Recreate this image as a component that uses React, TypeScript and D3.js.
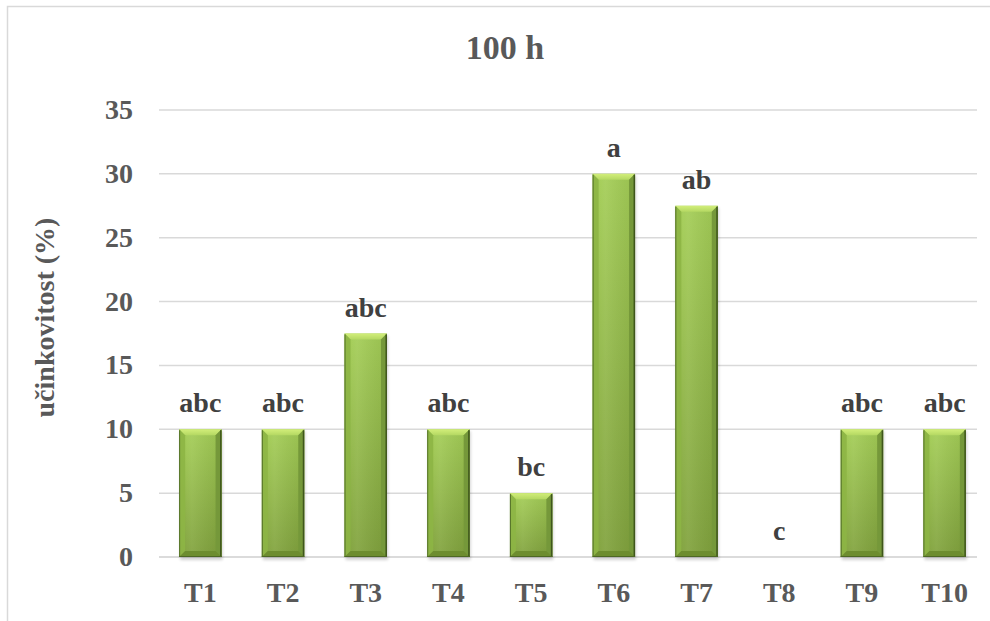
import React from "react";
import * as d3 from "d3";

const categories = ["T1", "T2", "T3", "T4", "T5", "T6", "T7", "T8", "T9", "T10"];
const values = [10, 10, 17.5, 10, 5, 30, 27.5, 0, 10, 10];
const letters = ["abc", "abc", "abc", "abc", "bc", "a", "ab", "c", "abc", "abc"];
const yTicks = [0, 5, 10, 15, 20, 25, 30, 35];
const title = "100 h";
const yTitle = "učinkovitost (%)";

const W = 990;
const H = 621;
const FONT = "'Liberation Serif', 'Times New Roman', serif";
const TXT = "#595959";

export default function App() {
  const x = d3
    .scaleBand<string>()
    .domain(categories)
    .range([159, 986])
    .paddingInner(0.487)
    .paddingOuter(0.2435);
  const y = d3.scaleLinear().domain([0, 35]).range([557, 110]);
  const bw = x.bandwidth();
  const b = 6;

  return (
    <svg
      width={W}
      height={H}
      style={{ position: "absolute", left: 0, top: 0, background: "#fff" }}
      fontFamily={FONT}
    >
      <defs>
        <linearGradient id="body" x1="0" y1="0" x2="0" y2="1">
          <stop offset="0" stopColor="#a3cd55" />
          <stop offset="1" stopColor="#7fa13b" />
        </linearGradient>
        <linearGradient id="bodyH" x1="0" y1="0" x2="1" y2="0">
          <stop offset="0" stopColor="#ffffff" stopOpacity="0.0" />
          <stop offset="0.3" stopColor="#ffffff" stopOpacity="0.08" />
          <stop offset="1" stopColor="#000000" stopOpacity="0.06" />
        </linearGradient>
        <linearGradient id="topBev" x1="0" y1="0" x2="0" y2="1">
          <stop offset="0" stopColor="#d2ee7a" />
          <stop offset="1" stopColor="#b4d862" />
        </linearGradient>
        <filter id="shadow" x="-20%" y="-5%" width="140%" height="115%">
          <feGaussianBlur stdDeviation="1.5" />
        </filter>
      </defs>

      <rect x={7.5} y={6.5} width={1100} height={800} fill="#fff" stroke="#d9d9d9" strokeWidth={1.5} />

      {yTicks.map((t) => (
        <line
          key={"g" + t}
          x1={159}
          x2={977}
          y1={y(t)}
          y2={y(t)}
          stroke={t === 0 ? "#cfcfcf" : "#d9d9d9"}
          strokeWidth={1.5}
        />
      ))}

      {yTicks.map((t) => (
        <text
          key={"t" + t}
          x={133}
          y={y(t) + 9}
          textAnchor="end"
          fontSize={28}
          fontWeight="bold"
          fill={TXT}
        >
          {t}
        </text>
      ))}

      {categories.map((c, i) => {
        const v = values[i];
        if (v <= 0) return null;
        const x0 = x(c)!;
        const y0 = y(v);
        const h = y(0) - y0;
        const x1 = x0 + bw;
        const y1 = y0 + h;
        return (
          <g key={"b" + c}>
            <rect x={x0 + 1} y={y0 + 2} width={bw} height={h + 1} fill="#000" opacity={0.18} filter="url(#shadow)" />
            <rect x={x0} y={y0} width={bw} height={h} fill="url(#body)" />
            <rect x={x0} y={y0} width={bw} height={h} fill="url(#bodyH)" />
            <path d={`M${x0},${y0}L${x1},${y0}L${x1 - b},${y0 + b}L${x0 + b},${y0 + b}Z`} fill="url(#topBev)" />
            <path d={`M${x0},${y0}L${x0 + b},${y0 + b}L${x0 + b},${y1 - b}L${x0},${y1}Z`} fill="#8db545" opacity={0.9} />
            <path d={`M${x1},${y0}L${x1},${y1}L${x1 - b},${y1 - b}L${x1 - b},${y0 + b}Z`} fill="#75983a" />
            <path d={`M${x0},${y1}L${x1},${y1}L${x1 - b},${y1 - b}L${x0 + b},${y1 - b}Z`} fill="#6d8d2f" />
            <line x1={x1 - 0.75} x2={x1 - 0.75} y1={y0 + 1} y2={y1} stroke="#3f561c" strokeWidth={1.5} />
            <line x1={x0 + 0.5} x2={x0 + 0.5} y1={y0 + 1} y2={y1} stroke="#55722a" strokeWidth={1} />
            <line x1={x0} x2={x1} y1={y1 - 0.5} y2={y1 - 0.5} stroke="#4d6824" strokeWidth={1} />
          </g>
        );
      })}

      {categories.map((c, i) => (
        <text
          key={"l" + c}
          x={x(c)! + bw / 2}
          y={y(values[i]) - 17}
          textAnchor="middle"
          fontSize={28}
          fontWeight="bold"
          fill="#404040"
        >
          {letters[i]}
        </text>
      ))}

      {categories.map((c) => (
        <text
          key={"x" + c}
          x={x(c)! + bw / 2}
          y={602}
          textAnchor="middle"
          fontSize={28}
          fontWeight="bold"
          fill={TXT}
        >
          {c}
        </text>
      ))}

      <text x={505} y={59} textAnchor="middle" fontSize={34} fontWeight="bold" fill={TXT}>
        {title}
      </text>

      <text
        transform={`translate(54,317.5) rotate(-90)`}
        textAnchor="middle"
        fontSize={28}
        fontWeight="bold"
        fill={TXT}
      >
        {yTitle}
      </text>
    </svg>
  );
}
